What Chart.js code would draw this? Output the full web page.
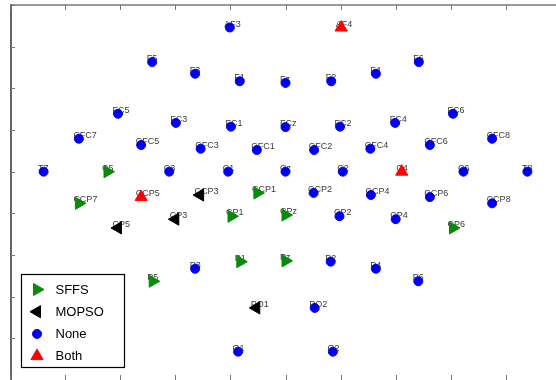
<!DOCTYPE html>
<html>
<head>
<meta charset="utf-8">
<script src="https://cdn.jsdelivr.net/npm/chart.js@4.4.1/dist/chart.umd.min.js"></script>
<style>
  html, body { margin: 0; padding: 0; background: #fff; overflow: hidden; }
  #wrap { position: absolute; left: 0; top: 0; width: 566px; height: 390px; }
</style>
</head>
<body>
<div id="wrap"><canvas id="chart" width="566" height="390"></canvas></div>
<script>
// Electrode names and positions
const names = ["AF3", "AF4", "F5", "F3", "F1", "Fz", "F2", "F4", "F6",
  "FC5", "FC3", "FC1", "FCz", "FC2", "FC4", "FC6",
  "CFC7", "CFC5", "CFC3", "CFC1", "CFC2", "CFC4", "CFC6", "CFC8",
  "T7", "C5", "C3", "C1", "Cz", "C2", "C4", "C6", "T8",
  "CCP7", "CCP5", "CCP3", "CCP1", "CCP2", "CCP4", "CCP6", "CCP8",
  "CP5", "CP3", "CP1", "CPz", "CP2", "CP4", "CP6",
  "P5", "P3", "P1", "Pz", "P2", "P4", "P6",
  "PO1", "PO2", "O1", "O2"];

const xs = [-1.01, 1.01, -2.42, -1.64, -0.83, 0, 0.83, 1.64, 2.42,
  -3.04, -1.99, -0.99, 0, 0.99, 1.99, 3.04,
  -3.75, -2.62, -1.54, -0.52, 0.52, 1.54, 2.62, 3.75,
  -4.39, -3.23, -2.11, -1.04, 0, 1.04, 2.11, 3.23, 4.39,
  -3.75, -2.62, -1.55, -0.51, 0.51, 1.55, 2.62, 3.75,
  -3.04, -2.0, -0.98, 0, 0.98, 2.0, 3.04,
  -2.41, -1.64, -0.82, 0, 0.82, 1.64, 2.41,
  -0.53, 0.53, -0.86, 0.86];

const ys = [3.46, 3.46, 2.63, 2.35, 2.17, 2.13, 2.17, 2.35, 2.63,
  1.39, 1.17, 1.08, 1.07, 1.08, 1.17, 1.39,
  0.79, 0.64, 0.55, 0.52, 0.52, 0.55, 0.64, 0.79,
  0, 0, 0, 0, 0, 0, 0, 0, 0,
  -0.76, -0.61, -0.56, -0.51, -0.51, -0.56, -0.61, -0.76,
  -1.35, -1.14, -1.07, -1.04, -1.07, -1.14, -1.35,
  -2.63, -2.33, -2.16, -2.14, -2.16, -2.33, -2.63,
  -3.27, -3.27, -4.32, -4.32];

// Channels picked by each method
const sffsPicks = ["C5", "CCP7", "CCP1", "CP1", "CPz", "CP6", "P5", "P1", "Pz"];
const mopsoPicks = ["CCP3", "CP5", "CP3", "PO1"];
const bothPicks = ["AF4", "CCP5", "C4"];

// Axis ticks (no labels shown)
const xTicks = [-5, -4, -3, -2, -1, 0, 1, 2, 3, 4, 5];
const yTicks = [-5, -4, -3, -2, -1, 0, 1, 2, 3, 4];

const groupOf = (n) => {
  if (bothPicks.includes(n)) return "Both";
  if (sffsPicks.includes(n)) return "SFFS";
  if (mopsoPicks.includes(n)) return "MOPSO";
  return "None";
};

const pointsFor = (group) =>
  names.map((n, i) => ({ x: xs[i], y: ys[i], name: n }))
       .filter(p => groupOf(p.name) === group);

const datasets = [
  { label: "SFFS", data: pointsFor("SFFS"), pointStyle: "triangle", rotation: 90,
    pointRadius: 7, backgroundColor: "#0a8a0a", borderColor: "#0a8a0a", borderWidth: 1 },
  { label: "MOPSO", data: pointsFor("MOPSO"), pointStyle: "triangle", rotation: -90,
    pointRadius: 7, backgroundColor: "#000000", borderColor: "#000000", borderWidth: 1 },
  { label: "None", data: pointsFor("None"), pointStyle: "circle", rotation: 0,
    pointRadius: 4.5, backgroundColor: "#0000ee", borderColor: "#0000ee", borderWidth: 1 },
  { label: "Both", data: pointsFor("Both"), pointStyle: "triangle", rotation: 0,
    pointRadius: 7, backgroundColor: "#ff0000", borderColor: "#ff0000", borderWidth: 1 },
];

// Electrode names, drawn under the markers
const nameLabels = {
  id: "nameLabels",
  beforeDatasetsDraw(chart) {
    const ctx = chart.ctx;
    ctx.save();
    ctx.font = "9px 'Liberation Sans', Arial, sans-serif";
    ctx.fillStyle = "#3a3a3a";
    ctx.textAlign = "left";
    ctx.textBaseline = "alphabetic";
    chart.data.datasets.forEach((ds, di) => {
      const meta = chart.getDatasetMeta(di);
      meta.data.forEach((el, i) => {
        ctx.fillText(ds.data[i].name, el.x - 5.5, el.y - 1);
      });
    });
    ctx.restore();
  }
};

// Frame with inward ticks, and the boxed legend
const frameAndLegend = {
  id: "frameAndLegend",
  afterDraw(chart) {
    const ctx = chart.ctx;
    const a = chart.chartArea;
    const sx = chart.scales.x, sy = chart.scales.y;
    ctx.save();
    ctx.lineWidth = 2;
    ctx.strokeStyle = "#999";
    ctx.beginPath();
    ctx.moveTo(a.left, a.top); ctx.lineTo(a.right, a.top);
    ctx.moveTo(a.left, a.bottom + 1); ctx.lineTo(a.right, a.bottom + 1);
    ctx.stroke();
    ctx.strokeStyle = "#666";
    ctx.beginPath();
    ctx.moveTo(a.left + 1, a.top - 1); ctx.lineTo(a.left + 1, a.bottom + 2);
    ctx.moveTo(a.right, a.top); ctx.lineTo(a.right, a.bottom);
    ctx.stroke();

    ctx.strokeStyle = "#777";
    ctx.lineWidth = 1;
    ctx.beginPath();
    xTicks.forEach(v => {
      const px = Math.round(sx.getPixelForValue(v)) + 0.5;
      ctx.moveTo(px, a.top); ctx.lineTo(px, a.top + 5);
      ctx.moveTo(px, a.bottom); ctx.lineTo(px, a.bottom - 5);
    });
    yTicks.forEach(v => {
      const py = Math.round(sy.getPixelForValue(v)) + 0.5;
      ctx.moveTo(a.left, py); ctx.lineTo(a.left + 5, py);
      ctx.moveTo(a.right, py); ctx.lineTo(a.right - 5, py);
    });
    ctx.stroke();

    // legend box
    const bx = 21.5, by = 274.5, bw = 103, bh = 93;
    ctx.fillStyle = "#fff";
    ctx.fillRect(bx, by, bw, bh);
    ctx.strokeStyle = "#000";
    ctx.lineWidth = 1.2;
    ctx.strokeRect(bx, by, bw, bh);
    ctx.font = "13px 'Liberation Sans', Arial, sans-serif";
    ctx.textBaseline = "middle";
    ctx.textAlign = "left";
    chart.data.datasets.forEach((ds, i) => {
      const cy = 289.5 + i * 22.2;
      ctx.fillStyle = ds.backgroundColor;
      ctx.strokeStyle = ds.borderColor;
      ctx.lineWidth = 1;
      Chart.helpers.drawPoint(ctx, {
        pointStyle: ds.pointStyle, rotation: ds.rotation,
        radius: ds.pointStyle === "circle" ? 4.5 : 7, borderWidth: 1
      }, 37, cy);
      ctx.fillStyle = "#000";
      ctx.fillText(ds.label, 55.5, cy + 0.5);
    });
    ctx.restore();
  }
};

new Chart(document.getElementById("chart"), {
  type: "scatter",
  data: { datasets: datasets },
  options: {
    responsive: false,
    animation: false,
    devicePixelRatio: 1,
    layout: { autoPadding: false, padding: { left: 10, top: 5, right: 5, bottom: 10 } },
    scales: {
      x: { type: "linear", min: -5, max: 5, display: false },
      y: { type: "linear", min: -5, max: 4, display: false },
    },
    plugins: {
      legend: { display: false },
      tooltip: { enabled: false },
    },
  },
  plugins: [nameLabels, frameAndLegend],
});
</script>
</body>
</html>
